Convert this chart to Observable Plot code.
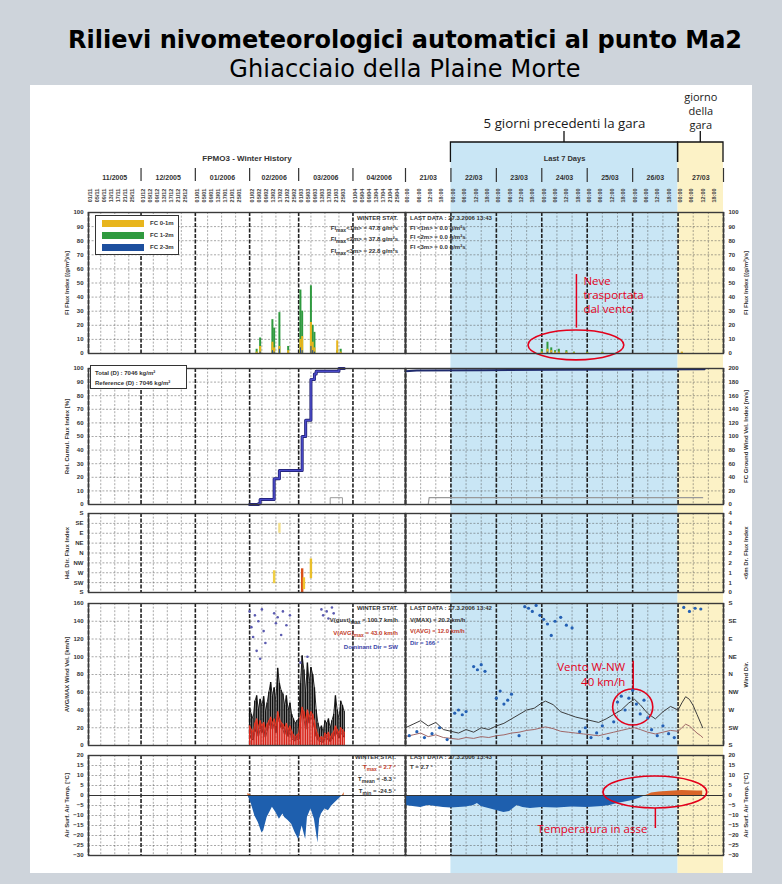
<!DOCTYPE html>
<html>
<head>
<meta charset="utf-8">
<script src="https://cdn.jsdelivr.net/npm/d3@7"></script>
<script src="https://cdn.jsdelivr.net/npm/@observablehq/plot@0.6"></script>
<style>
  html,body{margin:0;padding:0;background:#ced4db;}
  #page{position:relative;width:782px;height:884px;overflow:hidden;background:#ced4db;font-family:"Open Sans",sans-serif;}
  #white{position:absolute;left:30px;top:85px;width:722px;height:788px;background:#fff;}
  .title{position:absolute;left:14px;width:782px;text-align:center;color:#000;white-space:nowrap;font-family:"DejaVu Sans",sans-serif;}
  #t1{top:26px;font-size:24px;font-weight:700;line-height:28px;}
  #t2{top:54.5px;font-size:24px;font-weight:400;line-height:28px;letter-spacing:0.15px;}
  .note{position:absolute;font-family:"Liberation Sans",Arial,sans-serif;font-weight:700;font-size:6px;color:#333;white-space:nowrap;}
  .box{position:absolute;border:1.5px solid #333;background:#fff;box-sizing:border-box;}
  #page > svg{position:absolute;}
</style>
</head>
<body>
<div id="page">
  <div id="white"></div>
  <div class="title" id="t1">Rilievi nivometeorologici automatici al punto Ma2</div>
  <div class="title" id="t2">Ghiacciaio della Plaine Morte</div>
</div>
<script>
const NS = "http://www.w3.org/2000/svg";
const RED = "#e3001b";
const YELLOW = "#e8b51c", GREEN = "#2f9a3f", BLUE = "#1d4f9e";

// ---------------- DATA ----------------
const monthLabels = ["11/2005","12/2005","01/2006","02/2006","03/2006","04/2006"];
const monthStarts = ["2005-11-01","2005-12-01","2006-01-01","2006-02-01","2006-03-01","2006-04-01","2006-05-01"];
const histLabelDays = [1,5,9,13,17,21,25];
const histGridDays = [8,16,24];
const dayLabels = ["21/03","22/03","23/03","24/03","25/03","26/03","27/03"];
const dayStarts = ["2006-03-21","2006-03-22","2006-03-23","2006-03-24","2006-03-25","2006-03-26","2006-03-27","2006-03-28"];
const hourLabels = ["00:00","06:00","12:00","18:00"];
const hourLabelHours = [0,6,12,18];
const hourGridHours = [8,16];
const dirNames = ["S","SW","W","NW","N","NE","E","SE","S"];
const dirTicks = [180,225,270,315,360,405,450,495,540];

const periods = [
  {name:"5 giorni precedenti la gara", start:"2006-03-22", end:"2006-03-27", fill:"#c9e6f5"},
  {name:"giorno\ndella\ngara", start:"2006-03-27", end:"2006-03-28", fill:"#fcf2c6"}
];

// Panel 1: flux index (g/m2s), winter history
const fluxHistDates = ["2006-02-05","2006-02-07","2006-02-14","2006-02-15","2006-02-18","2006-02-23","2006-03-02","2006-03-03","2006-03-08","2006-03-09","2006-03-10","2006-03-23","2006-03-25"];
const fc12Hist = [3, 11, 24, 18, 29, 5, 45, 30, 48, 20, 15, 2, 3];
const fc01Hist = [1, 5, 8, 4, 5, 2, 10, 12, 22, 8, 4, 9, 1];
const fc23Hist = [0, 1, 2, 1, 3, 0, 4, 2, 5, 2, 1, 0, 0];
// Panel 1: last 7 days (hours since 21/03 00:00)
const fluxRecH = [72, 75, 77, 79, 81, 85, 89, 96, 104, 146];
const fc12Rec = [3, 8, 4, 2, 3, 2, 1, 1, 1, 0.5];
const fc01Rec = [1, 3, 2, 1, 1, 1, 0.5, 0.5, 0.5, 1];
const fc23Rec = [0, 1, 0.5, 0, 0, 0, 0, 0, 0, 0];

// Panel 2: cumulative flux (%) history, and last days (0-200)
const cumDates = ["2006-02-01","2006-02-06","2006-02-07","2006-02-13","2006-02-15","2006-02-18","2006-03-01","2006-03-03","2006-03-05","2006-03-08","2006-03-10","2006-03-11","2006-03-22","2006-03-24","2006-03-27"];
const cumPct = [0, 0.5, 3.7, 3.7, 19, 25, 25, 50, 62, 92, 96, 98, 98, 100, 100];
const refHistDates = ["2006-03-19","2006-03-19","2006-03-26","2006-03-26"];
const refHist = [0, 5, 5, 0];
const recCumH = [0, 6, 40, 80, 120, 158];
const recCum = [196, 197, 197.5, 198, 198.5, 199];
const recRefH = [0, 12, 12.5, 157];
const recRef = [0, 0, 10, 10];

// Panel 3: drift direction ranges (degrees)
const drDates = ["2006-02-15","2006-02-18","2006-03-03","2006-03-04","2006-03-08"];
const drFrom = [220, 90, 180, 193, 243];
const drTo = [279, 135, 288, 247, 333];
const drColor = ["#f0cf45","#f3df8a","#d8501a","#f0c530","#e9bf2a"];

// Panel 4: wind, history (daily from 01/02/2006)
const windHistStart = "2006-02-01";
const windHistMax = [42,35,30, 50,56,40,52,45,55,38,48, 60,71,55,65,50, 87,70,62,58,45, 56,40,48,35,30, 25,28, 30,70,101,85,60, 93,71,88,80,65, 40,25,18,22,15, 28,25,30,20,28, 35,56,40,30,50,45,38];
const windHistMin = [12,8,6, 15,20,10,18,14,20,9,16, 22,30,18,25,14, 35,26,20,18,12, 20,10,15,8,6, 5,7, 6,25,40,30,18, 38,25,32,28,20, 10,6,4,5,3, 8,6,9,4,7, 10,18,12,8,14,12,9];
const windHistAvg = [22,18,15, 25,30,20,28,22,26,18,24, 28,32,25,30,22, 38,30,26,24,20, 25,18,22,16,12, 10,12, 14,32,43,38,28, 40,32,38,35,28, 18,12,8,10,7, 14,12,15,9,13, 16,22,18,14,20,18,15];
const histDirDates = ["2006-02-01","2006-02-02","2006-02-03","2006-02-04","2006-02-05","2006-02-06","2006-02-07","2006-02-08","2006-02-09","2006-02-10","2006-02-15","2006-02-16","2006-02-17","2006-02-19","2006-02-20","2006-02-22","2006-02-24","2006-03-02","2006-03-06","2006-03-14","2006-03-15","2006-03-17","2006-03-18","2006-03-20","2006-03-21"];
const histDirDeg = [160,120,95,150,60,135,40,165,110,80,155,130,145,100,160,125,150,30,45,165,150,160,142,170,155];
// Panel 4: wind, last days
const recWindH = [0,4,8,12,16,20,24,28,32,36,40,44,48,52,56,60,64,68,72,74,78,82,86,90,94,98,102,106,110,114,118,121,124,128,132,136,140,144,146,148,150,152,154,156,157];
const recWindMax = [20,24,28,22,26,18,16,14,18,15,20,18,22,25,30,35,40,42,48,50,46,38,35,32,30,28,26,30,35,40,48,52,46,36,30,38,44,40,48,55,52,45,35,25,20];
const recWindAvg = [10,12,14,10,12,9,8,7,9,8,10,9,11,12,14,15,17,18,20,21,19,16,15,14,13,12,11,13,15,17,19,20,18,15,13,15,17,16,20,24,22,18,14,11,9];
const recDirH = [2,6,10,14,18,22,26,28,30,32,36,38,40,42,48,50,52,54,56,60,63,65,67,69,71,73,75,77,79,82,85,88,92,95,98,101,104,107,110,112,114,116,118,120,122,124,126,128,130,133,136,139,142,147,150,153,156];
const recDirDeg = [205,215,200,210,225,195,262,270,258,266,20,12,25,8,300,318,285,295,310,205,172,168,160,175,150,140,128,99,135,145,125,118,215,225,200,212,230,198,240,290,305,270,300,320,285,260,295,250,220,205,230,210,200,170,160,168,166];

// Panel 5: air temperature
const histTempDates = ["2006-01-31","2006-02-02","2006-02-04","2006-02-06","2006-02-08","2006-02-09","2006-02-11","2006-02-14","2006-02-16","2006-02-18","2006-02-20","2006-02-21","2006-02-23","2006-02-25","2006-02-27","2006-03-01","2006-03-03","2006-03-05","2006-03-06","2006-03-08","2006-03-10","2006-03-12","2006-03-13","2006-03-14","2006-03-16","2006-03-18","2006-03-20","2006-03-22","2006-03-24","2006-03-26","2006-03-27"];
const histTemp = [1,-4.2,-10.2,-13.6,-18.6,-17.8,-11,-5.9,-8.5,-11.9,-9.3,-11,-12.5,-14.4,-18.6,-22,-15.3,-22,-11,-6.8,-11.9,-23.7,-11.9,-9.3,-6.8,-7.6,-5.1,-3.4,-1.7,0,1.5];
const recTempH = [0,4,8,12,16,20,24,28,32,36,38,40,44,48,52,55,59,62,66,72,80,88,96,104,108,112,116,120,124,127,130,134,138,142,146,150,154,157];
const recTemp = [-5,-5.5,-6,-5,-5.5,-6,-6.2,-6,-5.8,-5,-4,-5.5,-6.5,-7.5,-8.5,-8,-5,-6,-6.5,-6,-6.2,-5.8,-6,-5.5,-5,-4,-3.2,-2.5,-1.2,0,1.2,1.8,2,2.3,2.5,2.4,2.3,2.2];

// annotations (position in data units)
const neveNote = {text:"Neve\ntrasportata\ndal vento", h:90.3, v:5.7, dh:25.3, dv:10.6, from:18, to:56};
const ventoNote = {text:"Vento W-NW\n40 km/h", h:120.3, v:42.8, dh:10.6, dv:20.3, from:63, to:95};
const tempNote = {text:"Temperatura in asse", h:132, v:1.5, dh:27.4, dv:8, from:-6.5, to:-16.5};

// ---------------- HELPERS ----------------
const page = document.getElementById("page");
const D = s => new Date(s.length <= 10 ? s + "T00:00:00Z" : s + "Z");
const H = h => new Date(Date.UTC(2006, 2, 21) + h * 3600e3);
const range = (a, b, s) => d3.range(a, b + s / 2, s);
const histDomain = [D(monthStarts[0]), D(monthStarts[monthStarts.length - 1])];
const recDomain = [D(dayStarts[0]), D(dayStarts[dayStarts.length - 1])];
const monthDates = monthStarts.map(D);
const dayDates = dayStarts.map(D);
const ymd = (m, d) => new Date(Date.UTC(m.getUTCFullYear(), m.getUTCMonth(), d));
const histLabelTicks = monthDates.slice(0, -1).flatMap(m => histLabelDays.map(d => ymd(m, d)));
const histGridTicks = monthDates.slice(0, -1).flatMap(m => histGridDays.map(d => ymd(m, d)));
const recLabelTicks = dayDates.slice(0, -1).flatMap(d => hourLabelHours.map((h, i) => ({date: new Date(+d + h * 3600e3), text: hourLabels[i]})));
const recGridTicks = dayDates.slice(0, -1).flatMap(d => hourGridHours.map(h => new Date(+d + h * 3600e3)));
const unwrap = d => d < 180 ? d + 360 : d;

const fluxHist = fluxHistDates.map((d, i) => ({x: D(d), a: fc01Hist[i], b: fc12Hist[i], c: fc23Hist[i]}));
const fluxRec = fluxRecH.map((h, i) => ({x: H(h), a: fc01Rec[i], b: fc12Rec[i], c: fc23Rec[i]}));
const cumHist = cumDates.map((d, i) => ({x: D(d), y: cumPct[i]}));
const refH = refHistDates.map((d, i) => ({x: D(d), y: refHist[i]}));
const cumRec = recCumH.map((h, i) => ({x: H(h), y: recCum[i]}));
const refR = recRefH.map((h, i) => ({x: H(h), y: recRef[i]}));
const drift = drDates.map((d, i) => ({x: D(d), y1: unwrap(drFrom[i]), y2: unwrap(drTo[i]), c: drColor[i]}));
const windHist = windHistMax.map((v, i) => ({x: d3.utcDay.offset(D(windHistStart), i), max: v, min: windHistMin[i], avg: windHistAvg[i]}));
const dirHist = histDirDates.map((d, i) => ({x: D(d), y: unwrap(histDirDeg[i])}));
const windRec = recWindH.map((h, i) => ({x: H(h), max: recWindMax[i], avg: recWindAvg[i]}));
const dirRec = recDirH.map((h, i) => ({x: H(h), y: unwrap(recDirDeg[i])}));
const tempHist = histTempDates.map((d, i) => ({x: D(d), t: histTemp[i]}));
const tempRec = recTempH.map((h, i) => ({x: H(h), t: recTemp[i]}));

const baseStyle = {background: "transparent", overflow: "visible", fontFamily: "Liberation Sans, Arial, sans-serif", fontSize: "6px", color: "#333"};

function place(svg, left, top) {
  svg.style.left = left + "px"; svg.style.top = top + "px";
  page.appendChild(svg);
}

const L = {left: 30, width: 375, mL: 58, mR: 0, domain: histDomain, grid: histGridTicks, major: monthDates, anchor: "left"};
const R = {left: 405, width: 347, mL: 0, mR: 29, domain: recDomain, grid: recGridTicks, major: dayDates, anchor: "right"};
const rows = [{top:212,bottom:353},{top:368,bottom:504},{top:513,bottom:592},{top:603,bottom:745},{top:755,bottom:855}];
const PAD = 6;

function panel(S, row, {domain, ticks, fmt, label, marks = [], grid = true, axis = true}) {
  const r = rows[row];
  const svg = Plot.plot({
    width: S.width, height: r.bottom - r.top + 2 * PAD,
    marginLeft: S.mL, marginRight: S.mR, marginTop: PAD, marginBottom: PAD,
    x: {type: "utc", domain: S.domain, axis: null},
    y: axis ? {domain} : {domain, axis: null},
    style: baseStyle,
    marks: [
      ...(grid ? [
        Plot.ruleY(ticks, {stroke: "#555", strokeWidth: 0.6, strokeDasharray: "2,1.6", strokeOpacity: 0.85}),
        Plot.ruleX(S.grid, {stroke: "#555", strokeWidth: 0.6, strokeDasharray: "2,1.6", strokeOpacity: 0.85}),
        Plot.ruleX(S.major, {stroke: "#222", strokeWidth: 1.6, strokeDasharray: "4,1.5"})
      ] : []),
      ...marks,
      ...(axis ? [Plot.axisY(ticks, {anchor: S.anchor, tickSize: 0, tickPadding: 5, tickFormat: fmt, label, labelAnchor: "center", labelArrow: "none", labelOffset: 24, fontWeight: "bold", fill: "#333"})] : []),
      ...(grid ? [Plot.frame({stroke: "#3a3a3a", strokeWidth: 1.4})] : [])
    ]
  });
  place(svg, S.left, r.top - PAD);
  return svg;
}

function ellipseMark(e) {
  return (index, {x, y}) => {
    const cx = x(H(e.h)), rx = x(H(e.h + e.dh)) - cx;
    const cy = y(e.v), ry = Math.abs(y(e.v + e.dv) - cy);
    const el = document.createElementNS(NS, "ellipse");
    el.setAttribute("cx", cx); el.setAttribute("cy", cy);
    el.setAttribute("rx", rx); el.setAttribute("ry", ry);
    el.setAttribute("fill", "none"); el.setAttribute("stroke", RED); el.setAttribute("stroke-width", 1.6);
    return el;
  };
}
function noteMarks(e, anchor, lineAnchor) {
  return [
    ellipseMark(e),
    Plot.ruleX([e], {x: d => H(d.h), y1: "from", y2: "to", stroke: RED, strokeWidth: 1.5}),
    Plot.text([e], {x: d => H(d.h), y: "to", text: "text", textAnchor: anchor, lineAnchor, dx: anchor === "start" ? 7 : -8,
      fill: RED, fontSize: 11.5, lineHeight: 1.25, fontFamily: "Open Sans, sans-serif", fontWeight: "normal"})
  ];
}

// ---------------- BACKGROUND (right: shading + header) ----------------
const bgTop = 85, bgH = 788, bgMT = 57;
function bracketMark(list) {
  return (index, {x}, values, dim) => {
    const g = document.createElementNS(NS, "g");
    const top = dim.marginTop;
    for (const p of list) {
      const x1 = x(D(p.start)), x2 = x(D(p.end)), xm = (x1 + x2) / 2;
      const path = document.createElementNS(NS, "path");
      path.setAttribute("d", `M${x1},${top + 20}V${top}H${x2}V${top + 20}M${xm},${top}V${top - 11}`);
      path.setAttribute("fill", "none"); path.setAttribute("stroke", "#111"); path.setAttribute("stroke-width", 1.3);
      g.appendChild(path);
    }
    return g;
  };
}
const mid = p => new Date((+D(p.start) + +D(p.end)) / 2);
place(Plot.plot({
  width: R.width, height: bgH, marginLeft: R.mL, marginRight: R.mR, marginTop: bgMT, marginBottom: 0,
  x: {type: "utc", domain: recDomain, axis: null},
  style: baseStyle,
  marks: [
    ...periods.map(p => Plot.rect([p], {x1: d => D(d.start), x2: d => D(d.end), fill: p.fill})),
    bracketMark(periods),
    Plot.text(periods.slice(0, 1), {x: mid, text: "name", frameAnchor: "top", dy: -15, lineAnchor: "bottom", fontSize: 13.3,
      fill: "#1a1a1a", fontFamily: "Open Sans, sans-serif"}),
    Plot.text(periods.slice(1), {x: mid, text: "name", frameAnchor: "top", dy: -14, lineAnchor: "bottom", fontSize: 11, lineHeight: 1.25,
      fill: "#1a1a1a", fontFamily: "Open Sans, sans-serif"}),
    Plot.text(["Last 7 Days"], {text: d => d, frameAnchor: "top", dy: 13, fontSize: 7.5, fontWeight: "bold", fill: "#333"}),
    Plot.text(dayLabels, {x: (d, i) => new Date(+dayDates[i] + 12 * 3600e3), text: d => d, frameAnchor: "top", dy: 33, fontSize: 7, fontWeight: "bold", fill: "#333"}),
    Plot.ruleX(dayDates, {insetTop: 26, insetBottom: bgH - bgMT - 40, stroke: "#333", strokeWidth: 1.2}),
    Plot.text(recLabelTicks, {x: "date", text: "text", rotate: -90, frameAnchor: "top", dy: 53, fontSize: 5.5, fontWeight: "bold", fill: "#444"})
  ]
}), R.left, bgTop);

// ---------------- LEFT HEADER ----------------
const fmtDM = d3.utcFormat("%d/%m");
place(Plot.plot({
  width: L.width, height: 72, marginLeft: L.mL, marginRight: 0, marginTop: 0, marginBottom: 0,
  x: {type: "utc", domain: histDomain, axis: null},
  style: baseStyle,
  marks: [
    Plot.text(["FPMO3 - Winter History"], {text: d => d, frameAnchor: "top", dy: 15, fontSize: 8, fontWeight: "bold", fill: "#333"}),
    Plot.text(monthLabels, {x: (d, i) => new Date((+monthDates[i] + +monthDates[i + 1]) / 2), text: d => d, frameAnchor: "top", dy: 35, fontSize: 7, fontWeight: "bold", fill: "#333"}),
    Plot.ruleX(monthDates.slice(1, -1), {insetTop: 28, insetBottom: 31, stroke: "#333", strokeWidth: 1.2}),
    Plot.text(histLabelTicks, {x: d => d, text: fmtDM, rotate: -90, frameAnchor: "top", dy: 55, fontSize: 5.5, fontWeight: "bold", fill: "#444"})
  ]
}), L.left, 140);

// ---------------- PANELS ----------------
const fluxTicks = range(0, 100, 10);
const fluxMarks = data => [
  Plot.ruleX(data, {x: "x", y1: 0, y2: "b", stroke: GREEN, strokeWidth: 2}),
  Plot.ruleX(data, {x: "x", y1: 0, y2: "a", stroke: YELLOW, strokeWidth: 2}),
  Plot.ruleX(data, {x: "x", y1: 0, y2: "c", stroke: BLUE, strokeWidth: 1})
];
panel(L, 0, {domain: [0, 100], ticks: fluxTicks, label: "FI Flux Index [(g/m²)/s]", marks: fluxMarks(fluxHist)});
panel(R, 0, {domain: [0, 100], ticks: fluxTicks, label: "FI Flux Index [(g/m²)/s]", marks: [...fluxMarks(fluxRec), ...noteMarks(neveNote, "start", "top")]});

panel(L, 1, {domain: [0, 100], ticks: range(0, 100, 10), label: "Rel. Cumul. Flux Index [%]", marks: [
  Plot.line(refH, {x: "x", y: "y", stroke: "#999", strokeWidth: 1}),
  Plot.line(cumHist, {x: "x", y: "y", curve: "step-after", stroke: "#1b1b6a", strokeWidth: 3}),
  Plot.line(cumHist, {x: "x", y: "y", curve: "step-after", stroke: "#4a4ac8", strokeWidth: 1.6})
]});
panel(R, 1, {domain: [0, 200], ticks: range(0, 200, 20), label: "FC Ground Wind Vel. Index [m/s]", marks: [
  Plot.line(refR, {x: "x", y: "y", stroke: "#999", strokeWidth: 1.2}),
  Plot.line(cumRec, {x: "x", y: "y", stroke: "#1f2b6e", strokeWidth: 2})
]});

panel(L, 2, {domain: [180, 540], ticks: dirTicks, fmt: (d, i) => dirNames[i], label: "Hd. Dir. Flux Index", marks: [
  Plot.ruleX(drift, {x: "x", y1: "y1", y2: "y2", stroke: "c", strokeWidth: 2.4})
]});
panel(R, 2, {domain: [0, 4], ticks: range(0, 4, 0.5), label: "<6m Dr. Flux Index", marks: []});

const windTicks = range(0, 160, 20);
panel(L, 3, {domain: [0, 160], ticks: windTicks, label: "AVG/MAX Wind Vel. [km/h]", marks: [
  Plot.ruleX(windHist, {x: "x", y1: "min", y2: "max", stroke: "#111", strokeWidth: 1.4}),
  Plot.lineY(windHist, {x: "x", y: "max", stroke: "#111", strokeWidth: 0.9}),
  Plot.lineY(windHist, {x: "x", y: "min", stroke: "#222", strokeWidth: 0.8}),
  Plot.ruleX(windHist, {x: "x", y1: 0, y2: "avg", stroke: "#d8261b", strokeWidth: 1.4}),
  Plot.lineY(windHist, {x: "x", y: "avg", stroke: "#e83a22", strokeWidth: 1})
]});
panel(L, 3, {domain: [180, 540], ticks: dirTicks, grid: false, axis: false, marks: [
  Plot.dot(dirHist, {x: "x", y: "y", r: 1.3, fill: "#5b5bb0"})
]});
panel(R, 3, {domain: [0, 160], ticks: windTicks, axis: false, marks: [
  Plot.lineY(windRec, {x: "x", y: "avg", stroke: "#a06868", strokeWidth: 1}),
  Plot.lineY(windRec, {x: "x", y: "max", stroke: "#3d3d3d", strokeWidth: 1}),
  ...noteMarks(ventoNote, "end", "top")
]});
panel(R, 3, {domain: [180, 540], ticks: dirTicks, fmt: (d, i) => dirNames[i], label: "Wind Dir.", grid: false, marks: [
  Plot.dot(dirRec, {x: "x", y: "y", r: 1.6, fill: "#2460b4"})
]});

const tempTicks = range(-30, 20, 5);
const tempMarks = data => [
  Plot.areaY(data, {x: "x", y1: 0, y2: d => Math.min(d.t, 0), fill: "#1e5fae"}),
  Plot.areaY(data, {x: "x", y1: 0, y2: d => Math.max(d.t, 0), fill: "#d9652a"}),
  Plot.ruleY([0], {stroke: "#333", strokeWidth: 1})
];
panel(L, 4, {domain: [-30, 20], ticks: tempTicks, label: "Air Surf. Air Temp. [°C]", marks: tempMarks(tempHist)});
panel(R, 4, {domain: [-30, 20], ticks: tempTicks, label: "Air Surf. Air Temp. [°C]", marks: [...tempMarks(tempRec), ...noteMarks(tempNote, "end", "middle")]});

// ---------------- TEXT BLOCKS ----------------
function note(lines, pos, lh) {
  const div = document.createElement("div");
  div.className = "note";
  Object.assign(div.style, {top: pos.top + "px", lineHeight: lh + "px", textAlign: pos.right != null ? "right" : "left"});
  if (pos.right != null) div.style.right = (782 - pos.right) + "px"; else div.style.left = pos.left + "px";
  div.innerHTML = lines.map(([t, c]) => `<div style="color:${c || "#333"}">${t}</div>`).join("");
  page.appendChild(div);
}
note([["WINTER STAT."], ["FI<sub>max</sub>&lt;1m&gt; = 47.8 g/m²s"], ["FI<sub>max</sub>&lt;2m&gt; = 37.8 g/m²s"], ["FI<sub>max</sub>&lt;3m&gt; = 22.8 g/m²s"]], {right: 398, top: 214}, 9.5);
note([["LAST DATA : 27.3.2006 13:43"], ["FI &lt;1m&gt; = 0.0 g/m²s"], ["FI &lt;2m&gt; = 0.0 g/m²s"], ["FI &lt;3m&gt; = 0.0 g/m²s"]], {left: 410, top: 214}, 9.5);
note([["WINTER STAT."], ["V(gust)<sub>max</sub> = 100.7 km/h"], ["V(AVG)<sub>max</sub> = 43.0 km/h", "#c23a2a"], ["Dominant Dir = SW", "#3a44a8"]], {right: 398, top: 603}, 11.5);
note([["LAST DATA : 27.3.2006 13:42"], ["V(MAX) = 20.2 km/h"], ["V(AVG) = 12.0 km/h", "#c23a2a"], ["Dir = 166 °", "#3a44a8"]], {left: 410, top: 603}, 11.5);
note([["WINTER STAT."], ["T<sub>max</sub> = 2.7 °", "#c23a2a"], ["T<sub>mean</sub> = -8.3 °"], ["T<sub>min</sub> = -24.5 °"]], {right: 396, top: 752}, 10);
note([["LAST DATA : 27.3.2006 13:43"], ["T = 2.7 °"]], {left: 410, top: 752}, 10);

// legend box panel 1
const legendItems = [["FC 0-1m", YELLOW], ["FC 1-2m", GREEN], ["FC 2-3m", BLUE]];
const lb = document.createElement("div");
lb.className = "box";
Object.assign(lb.style, {left: "95px", top: "215px", width: "84px", height: "40px"});
lb.innerHTML = legendItems.map(([t, c], i) =>
  `<div style="position:absolute;left:6px;top:${4 + i * 12}px;width:42px;height:7px;background:${c}"></div>` +
  `<div class="note" style="left:54px;top:${3 + i * 12}px;line-height:9px">${t}</div>`).join("");
page.appendChild(lb);
// totals box panel 2
const tb = document.createElement("div");
tb.className = "box";
Object.assign(tb.style, {left: "90px", top: "365px", width: "97px", height: "24px"});
tb.innerHTML = `<div class="note" style="left:4px;top:2px;line-height:10px">Total (D) : 7046 kg/m²<br>Reference (D) : 7046 kg/m²</div>`;
page.appendChild(tb);
</script>
</body>
</html>
